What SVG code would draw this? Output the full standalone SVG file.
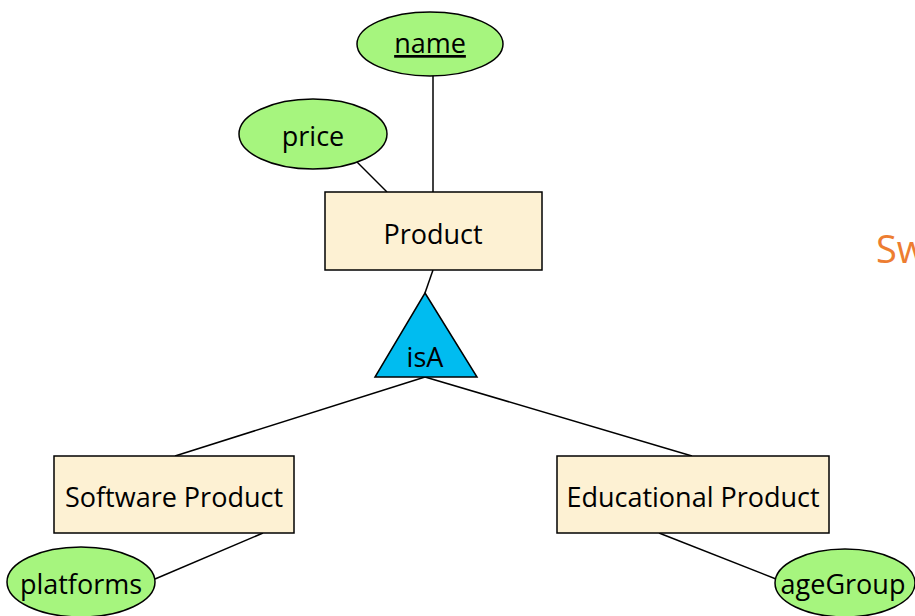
<svg xmlns="http://www.w3.org/2000/svg" width="915" height="616" viewBox="0 0 915 616">
<style>
.attr{fill:#a6f57e;stroke:#000;stroke-width:1.5}
.ent{fill:#fdf1d3;stroke:#000;stroke-width:1.5}
.isa{fill:#00bcf0;stroke:#000;stroke-width:1.5}
.lbl{font-family:"Open Sans","Liberation Sans",sans-serif;font-size:27px;fill:#000;text-anchor:middle}
.conn line{stroke:#000;stroke-width:1.5}
</style>
<rect width="915" height="616" fill="#fff"/>
<g class="conn">
<line x1="433" y1="75" x2="433" y2="192"/>
<line x1="357" y1="162" x2="387" y2="192"/>
<line x1="433" y1="270" x2="425" y2="293"/>
<line x1="425" y1="377" x2="175" y2="456"/>
<line x1="425" y1="377" x2="692" y2="456"/>
<line x1="263" y1="533" x2="155" y2="579"/>
<line x1="659" y1="533" x2="776" y2="579"/>
</g>
<g id="name"><ellipse class="attr" cx="430" cy="44" rx="73" ry="32"/><text class="lbl" x="430" y="53" text-decoration="underline">name</text></g>
<g id="price"><ellipse class="attr" cx="313" cy="134" rx="74" ry="35"/><text class="lbl" x="313" y="146">price</text></g>
<g id="product"><rect class="ent" x="325" y="192" width="217" height="78"/><text class="lbl" x="433" y="244">Product</text></g>
<g id="isA"><polygon class="isa" points="425,293 477,377 375,377"/><text class="lbl" x="425" y="367">isA</text></g>
<g id="software"><rect class="ent" x="54" y="456" width="240" height="77"/><text class="lbl" x="174" y="507">Software Product</text></g>
<g id="educational"><rect class="ent" x="557" y="456" width="272" height="77"/><text class="lbl" x="693" y="507">Educational Product</text></g>
<g id="platforms"><ellipse class="attr" cx="81" cy="582" rx="74" ry="35"/><text class="lbl" x="81" y="594">platforms</text></g>
<g id="ageGroup"><ellipse class="attr" cx="845" cy="583" rx="70" ry="34"/><text class="lbl" x="843" y="594">ageGroup</text></g>
<text x="876" y="263" font-family="'Open Sans','Liberation Sans',sans-serif" font-size="38" fill="#ed7d31">Sw</text>
</svg>
